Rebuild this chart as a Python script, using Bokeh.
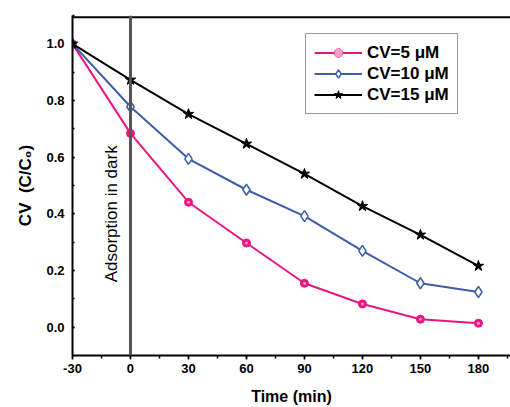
from bokeh.plotting import figure
from bokeh.models import (Range1d, SingleIntervalTicker, Span, Label,
                          NumeralTickFormatter, Legend, LegendItem)
from bokeh.embed import file_html
from bokeh.resources import INLINE

# ---- data ----
time_min = [-30, 0, 30, 60, 90, 120, 150, 180]
cv5 = [1.0, 0.684, 0.441, 0.297, 0.155, 0.082, 0.028, 0.014]
cv10 = [1.0, 0.778, 0.594, 0.485, 0.392, 0.269, 0.155, 0.124]
cv15 = [1.0, 0.873, 0.752, 0.647, 0.541, 0.427, 0.326, 0.216]
labels = ["CV=5 \u03bcM", "CV=10 \u03bcM", "CV=15 \u03bcM"]
dark_time = 0
x_start, x_end = -30, 196.6
y_bottom, y_top = -0.1, 1.1

FONT = "Liberation Sans"
PINK = "#EC157F"
BLUE = "#3F5BAA"
BLACK = "#000000"

p = figure(width=510, height=407, output_backend="svg", toolbar_location=None,
           x_range=Range1d(x_start, x_end), y_range=Range1d(y_bottom, y_top),
           min_border_left=72, min_border_right=0, min_border_top=15,
           min_border_bottom=52)
p.outline_line_color = None
p.grid.visible = False
p.background_fill_color = "white"
p.border_fill_color = "white"

# axes
xa = p.xaxis[0]
xa.ticker = SingleIntervalTicker(interval=30, num_minor_ticks=2)
xa.formatter = NumeralTickFormatter(format="0")
xa.axis_label = "Time (min)"
ya = p.yaxis[0]
ya.ticker = SingleIntervalTicker(interval=0.2, num_minor_ticks=2)
ya.formatter = NumeralTickFormatter(format="0.0")
ya.axis_label = "CV\u00a0\u00a0(C/C\u2080)"

for ax in (xa, ya):
    ax.axis_line_width = 2
    ax.axis_line_color = "black"
    ax.major_label_text_font = FONT
    ax.major_label_text_font_style = "bold"
    ax.major_label_text_font_size = "13px"
    ax.major_label_text_color = "black"
    ax.axis_label_text_font = FONT
    ax.axis_label_text_font_style = "bold"
    ax.axis_label_text_color = "black"
    ax.major_tick_line_width = 1.5
    ax.minor_tick_line_width = 1.5

xa.axis_label_text_font_size = "16px"
ya.axis_label_text_font_size = "17px"

xa.major_tick_out = 4
xa.major_tick_in = 0
xa.minor_tick_out = 3
xa.minor_tick_in = 0
xa.major_label_standoff = 4
xa.axis_label_standoff = 12

ya.major_tick_out = 0
ya.major_tick_in = 2
ya.minor_tick_out = 0
ya.minor_tick_in = 2
ya.major_label_standoff = 8
ya.axis_label_standoff = 8

# top border of the frame, drawn just inside the frame
border_y = y_top - 0.006
p.line([x_start, x_end], [border_y, border_y], line_color="black", line_width=2)

# vertical "dark" line
p.add_layout(Span(location=dark_time, dimension="height", line_color="#555555",
                  line_width=3))
p.add_layout(Label(x=dark_time, y=0.40, text="Adsorption in dark", angle=1.5708,
                   text_align="center", text_baseline="bottom", x_offset=-9,
                   text_font=FONT, text_font_size="17px", text_color="black"))

# series
r1l = p.line(time_min, cv5, line_color=PINK, line_width=2)
r1m = p.scatter(time_min, cv5, marker="circle", size=8, fill_color=PINK,
                line_color=PINK)
r1h = p.scatter(time_min, cv5, marker="circle", size=3, fill_color="#F79CC6",
                line_color=None)
r2l = p.line(time_min, cv10, line_color=BLUE, line_width=2)
r2m = p.scatter(time_min, cv10, marker="diamond", size=11, fill_color="white",
                line_color=BLUE, line_width=1.5)
r3l = p.line(time_min, cv15, line_color=BLACK, line_width=2)
r3m = p.scatter(time_min, cv15, marker="star", size=11, fill_color=BLACK,
                line_color=BLACK)

legend = Legend(items=[
    LegendItem(label=labels[0], renderers=[r1l, r1m, r1h]),
    LegendItem(label=labels[1], renderers=[r2l, r2m]),
    LegendItem(label=labels[2], renderers=[r3l, r3m]),
], location=(233, 241))
legend.label_text_font = FONT
legend.label_text_font_style = "bold"
legend.label_text_font_size = "17px"
legend.label_text_color = "black"
legend.border_line_color = "#333333"
legend.border_line_width = 1
legend.padding = 8
legend.spacing = 0
legend.margin = 0
legend.glyph_width = 48
legend.glyph_height = 21
legend.label_height = 21
legend.label_standoff = 5
legend.background_fill_alpha = 1
p.add_layout(legend, "center")

open("out.html", "w").write(file_html(p, INLINE))
